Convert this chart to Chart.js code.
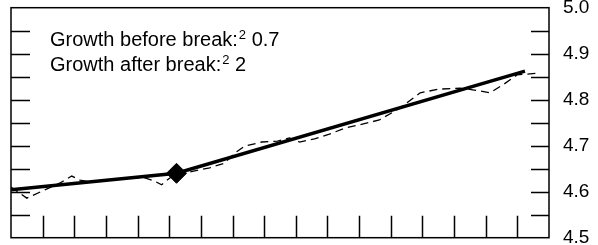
<!DOCTYPE html>
<html>
<head>
<meta charset="utf-8">
<script src="https://cdn.jsdelivr.net/npm/chart.js@4"></script>
<style>
  html, body { margin: 0; padding: 0; background: #fff; }
  #wrap { width: 598px; height: 245px; }
</style>
</head>
<body>
<div id="wrap"><canvas id="chart"></canvas></div>
<script>
// time axis in years from the start of the window
const actualYears = [0, 0.5, 1.07, 1.55, 1.92, 2.18, 2.55, 3.12, 3.75, 4.23, 4.54, 4.76, 5.02, 5.23,
  5.65, 6.28, 6.75, 7.07, 7.38, 7.92, 8.42, 8.8, 9.12, 9.59, 10.06, 10.54, 11.23, 11.64,
  12.3, 12.93, 13.53, 14.2, 14.64, 15.14, 15.58, 15.99, 16.72];
const actualValues = [4.61, 4.586, 4.604, 4.619, 4.634, 4.625, 4.621, 4.625, 4.63, 4.63, 4.623, 4.615, 4.63, 4.641,
  4.643, 4.652, 4.662, 4.684, 4.699, 4.708, 4.71, 4.717, 4.708, 4.715, 4.725, 4.738, 4.749, 4.756,
  4.782, 4.815, 4.823, 4.825, 4.821, 4.815, 4.834, 4.854, 4.858];

// fitted trend with a break
const trendYears = [0, 5.23, 16.24];
const trendValues = [4.604, 4.64, 4.862];
const breakIndex = 1;

const yTicks = [4.5, 4.6, 4.7, 4.8, 4.9, 5.0];
const growthLabels = [
  { text: 'Growth before break:', value: '0.7' },
  { text: 'Growth after break:', value: '2' }
];

const FONT = '"Liberation Sans", Arial, sans-serif';

// inward tick marks, frame and the note in the top left
const framePlugin = {
  id: 'frame',
  afterDatasetsDraw(chart) {
    const { ctx, chartArea: a, scales } = chart;
    const y = scales.y, x = scales.x;
    ctx.save();
    ctx.strokeStyle = '#000';
    ctx.lineWidth = 1.5;
    ctx.strokeRect(a.left, a.top, a.right - a.left, a.bottom - a.top);
    ctx.beginPath();
    for (let v = 4.55; v < 4.999; v += 0.05) {
      const py = Math.round(y.getPixelForValue(v)) + 0.5;
      ctx.moveTo(a.left, py); ctx.lineTo(a.left + 19, py);
      ctx.moveTo(a.right, py); ctx.lineTo(a.right - 18, py);
    }
    for (let t = 1; t < 17; t++) {
      const px = Math.round(x.getPixelForValue(t)) + 0.5;
      ctx.moveTo(px, a.bottom); ctx.lineTo(px, a.bottom - 22);
    }
    ctx.stroke();

    ctx.fillStyle = '#000';
    ctx.textBaseline = 'alphabetic';
    growthLabels.forEach((g, i) => {
      const by = 45.5 + i * 25.5;
      let px = 50;
      ctx.font = '20px ' + FONT;
      ctx.fillText(g.text, px, by);
      px += ctx.measureText(g.text).width + 1;
      ctx.font = '13px ' + FONT;
      ctx.fillText('2', px, by - 7);
      px += ctx.measureText('2').width;
      ctx.font = '20px ' + FONT;
      ctx.fillText(' ' + g.value, px, by);
    });
    ctx.restore();
  }
};

new Chart(document.getElementById('chart'), {
  type: 'line',
  data: {
    datasets: [
      {
        data: trendYears.map((t, i) => ({ x: t, y: trendValues[i] })),
        borderColor: '#000',
        borderWidth: 3.5,
        pointRadius: trendYears.map((t, i) => i === breakIndex ? 10 : 0),
        pointStyle: 'rectRot',
        pointBackgroundColor: '#000',
        pointBorderColor: '#000',
        pointBorderWidth: 1,
        tension: 0
      },
      {
        data: actualYears.map((t, i) => ({ x: t, y: actualValues[i] })),
        borderColor: '#000',
        borderWidth: 1.3,
        borderDash: [8, 5],
        pointRadius: 0,
        tension: 0
      }
    ]
  },
  options: {
    responsive: true,
    maintainAspectRatio: false,
    animation: false,
    layout: { padding: { left: 11, right: 0, top: 0, bottom: 0 } },
    plugins: { legend: { display: false }, tooltip: { enabled: false } },
    scales: {
      x: { type: 'linear', min: 0, max: 17, display: false },
      y: {
        position: 'right',
        min: 4.5,
        max: 5.0,
        afterBuildTicks: s => { s.ticks = yTicks.map(v => ({ value: v })); },
        afterFit: s => { s.width = 49; s.paddingTop = 7.7; s.paddingBottom = 7.3; },
        grid: { display: false, drawTicks: false },
        border: { display: false },
        ticks: {
          padding: 14,
          color: '#000',
          font: { family: FONT, size: 19 },
          callback: v => Number(v).toFixed(1)
        }
      }
    }
  },
  plugins: [framePlugin]
});
</script>
</body>
</html>
